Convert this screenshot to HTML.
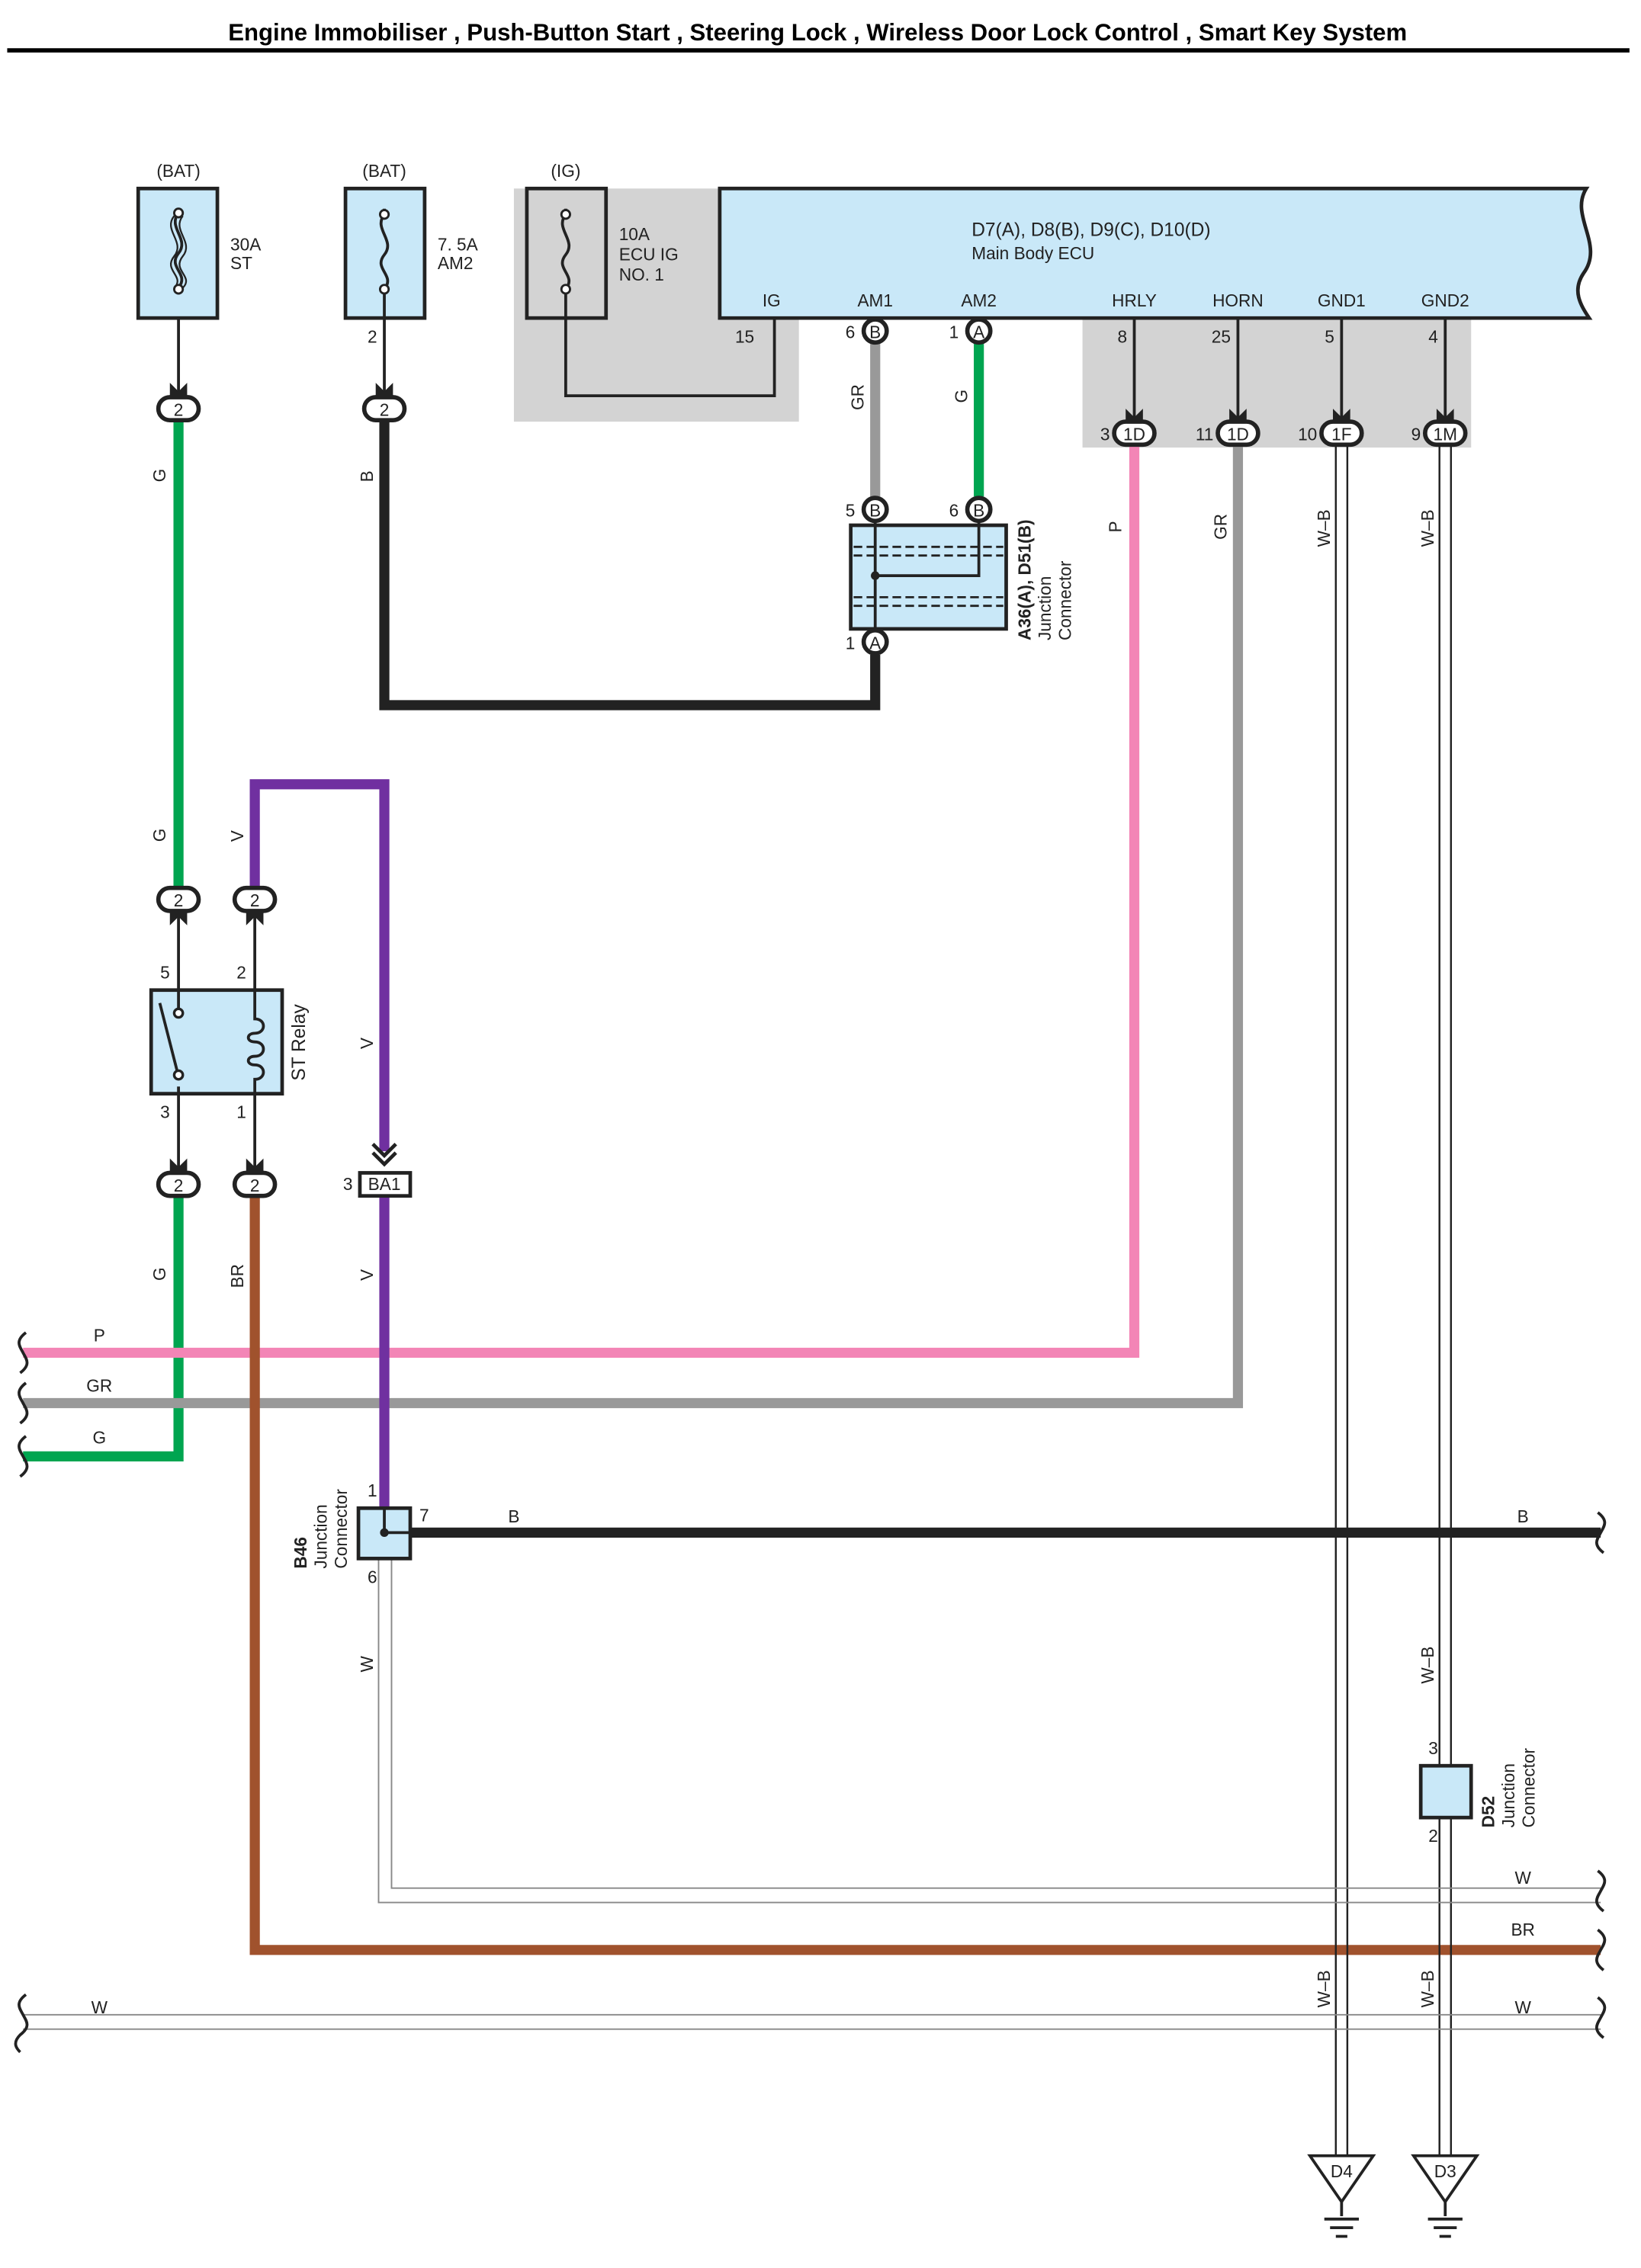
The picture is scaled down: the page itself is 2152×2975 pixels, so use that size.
<!DOCTYPE html>
<html><head><meta charset="utf-8"><style>
html,body{margin:0;padding:0;background:#fff}
svg{display:block}
text{font-family:"Liberation Sans",sans-serif;font-size:12px;fill:#222}
</style></head><body>
<svg width="2152" height="2975" viewBox="0 0 1140 1576" xmlns="http://www.w3.org/2000/svg">
<defs>
<g id="arr"><path d="M-6,-9 L0,-3 L6,-9 L6,0 L0,6 L-6,0 Z" fill="#222"/></g>
</defs>
<text x="568" y="28" text-anchor="middle" style="font-size:16.5px;font-weight:bold;fill:#000">Engine Immobiliser , Push-Button Start , Steering Lock , Wireless Door Lock Control , Smart Key System</text>
<line x1="5" y1="35" x2="1132" y2="35" stroke="#000" stroke-width="3"/>

<!-- gray regions -->
<rect x="357" y="131" width="198" height="162" fill="#d3d3d3"/>
<rect x="752" y="221" width="270" height="90" fill="#d3d3d3"/>

<!-- fuses -->
<text x="124" y="123" text-anchor="middle">(BAT)</text>
<rect x="96" y="131" width="55" height="90" fill="#c9e8f8" stroke="#222" stroke-width="2.5"/>
<path d="M124,148 c-8,10 8,18 0,28 c-8,10 8,14 0,24" fill="none" stroke="#222" stroke-width="2"/>
<path d="M121,150 c-8,10 8,18 0,28 c-8,10 8,14 0,22" fill="none" stroke="#222" stroke-width="1.2"/>
<path d="M127,150 c-8,10 8,18 0,28 c-8,10 8,14 0,22" fill="none" stroke="#222" stroke-width="1.2"/>
<text x="160" y="174">30A</text><text x="160" y="187">ST</text>
<text x="267" y="123" text-anchor="middle">(BAT)</text>
<rect x="240" y="131" width="55" height="90" fill="#c9e8f8" stroke="#222" stroke-width="2.5"/>
<path d="M267,145 v4 c-8,10 8,18 0,28 c-8,10 8,14 0,24 v20" fill="none" stroke="#222" stroke-width="2"/>
<text x="304" y="174">7. 5A</text><text x="304" y="187">AM2</text>
<text x="393" y="123" text-anchor="middle">(IG)</text>
<rect x="366" y="131" width="55" height="90" fill="#d3d3d3" stroke="#222" stroke-width="2.5"/>
<path d="M393,145 v4 c-8,10 8,18 0,28 c-8,10 8,14 0,24 v20" fill="none" stroke="#222" stroke-width="2"/>
<text x="430" y="167">10A</text><text x="430" y="181">ECU IG</text><text x="430" y="195">NO. 1</text>
<path d="M393,221 V275 H538 V221" fill="none" stroke="#222" stroke-width="2"/>
<text x="524" y="238" text-anchor="end">15</text>
<!-- fuse circle points -->
<g fill="#fff" stroke="#222" stroke-width="1.5"><circle cx="124" cy="148" r="3"/><circle cx="124" cy="201" r="3"/><circle cx="267" cy="149" r="3"/><circle cx="267" cy="201" r="3"/><circle cx="393" cy="149" r="3"/><circle cx="393" cy="201" r="3"/></g>

<!-- ECU -->
<path d="M500,131 H1102 C1090,150 1115,170 1100,190 C1092,202 1098,212 1104,221 H500 Z" fill="#c9e8f8" stroke="#222" stroke-width="2.5"/>
<text x="675" y="164" style="font-size:13px">D7(A), D8(B), D9(C), D10(D)</text>
<text x="675" y="180">Main Body ECU</text>
<g text-anchor="middle"><text x="536" y="213">IG</text><text x="608" y="213">AM1</text><text x="680" y="213">AM2</text><text x="788" y="213">HRLY</text><text x="860" y="213">HORN</text><text x="932" y="213">GND1</text><text x="1004" y="213">GND2</text></g>

<!-- colored wires -->
<g fill="none" stroke-width="7">
<path d="M124,293 V616" stroke="#00a550"/>
<path d="M124,832 V1012 H16" stroke="#00a550"/>
<path d="M267,293 V490 H608 V455" stroke="#222"/>
<path d="M608,239 V345" stroke="#999" />
<path d="M680,239 V345" stroke="#00a550"/>
<path d="M788,310 V940 H16" stroke="#f385b6"/>
<path d="M860,310 V975 H16" stroke="#999"/>
<path d="M177,616 V545 H267 V800" stroke="#7030a0"/>
<path d="M267,831 V1048" stroke="#7030a0"/>
<path d="M177,832 V1355 H1112" stroke="#a0522d"/>
<path d="M285,1065 H1112" stroke="#222"/>
</g>
<!-- W-B double wires -->
<g stroke="#222" stroke-width="1.3" fill="none">
<path d="M928,310 V1498 M936,310 V1498"/>
<path d="M1000,310 V1227 M1008,310 V1227 M1000,1263 V1498 M1008,1263 V1498"/>
</g>
<!-- W wires (hollow) -->
<g stroke="#888" stroke-width="1" fill="none">
<path d="M263,1083 V1322 H1112"/><path d="M272,1083 V1312 H1112"/>
<path d="M16,1400 H1112 M16,1410 H1112"/>
</g>

<!-- squiggle ends -->
<g fill="none" stroke="#222" stroke-width="2">
<path d="M18,926 c-8,6 -4,10 -2,14 c2,4 6,8 -2,14"/>
<path d="M18,961 c-8,6 -4,10 -2,14 c2,4 6,8 -2,14"/>
<path d="M18,998 c-8,6 -4,10 -2,14 c2,4 6,8 -2,14"/>
<path d="M18,1386 c-8,6 -4,10 -2,14 c2,4 6,8 -2,14 c-6,6 -2,10 0,12"/>
<path d="M1110,1051 c8,6 4,10 2,14 c-2,4 -6,8 2,14"/>
<path d="M1110,1300 c8,6 4,10 2,14 c-2,4 -6,8 2,14"/>
<path d="M1110,1341 c8,6 4,10 2,14 c-2,4 -6,8 2,14"/>
<path d="M1110,1388 c8,6 4,10 2,14 c-2,4 -6,8 2,14"/>
</g>

<!-- thin lines to connectors -->
<g stroke="#222" stroke-width="2" fill="none">
<path d="M124,221 V275 M267,221 V275"/>
<path d="M788,221 V293 M860,221 V293 M932,221 V293 M1004,221 V293"/>
<path d="M124,634 V688 M177,634 V688 M124,760 V814 M177,760 V814"/>
</g>
<!-- arrows -->
<use href="#arr" x="124" y="275"/><use href="#arr" x="267" y="275"/>
<use href="#arr" x="788" y="293"/><use href="#arr" x="860" y="293"/><use href="#arr" x="932" y="293"/><use href="#arr" x="1004" y="293"/>
<use href="#arr" x="124" y="814"/><use href="#arr" x="177" y="814"/>
<g transform="translate(124,634) scale(1,-1)"><use href="#arr"/></g>
<g transform="translate(177,634) scale(1,-1)"><use href="#arr"/></g>
<path d="M259,795 L267,803 L275,795 M259,801 L267,809 L275,801" stroke="#222" stroke-width="2.5" fill="none"/>

<!-- oval connectors -->
<g fill="#fff" stroke="#222" stroke-width="3">
<rect x="110" y="276" width="28" height="16" rx="8"/><rect x="253" y="276" width="28" height="16" rx="8"/>
<rect x="110" y="617" width="28" height="16" rx="8"/><rect x="163" y="617" width="28" height="16" rx="8"/>
<rect x="110" y="815" width="28" height="16" rx="8"/><rect x="163" y="815" width="28" height="16" rx="8"/>
<rect x="774" y="293" width="28" height="16" rx="8"/><rect x="846" y="293" width="28" height="16" rx="8"/>
<rect x="918" y="293" width="28" height="16" rx="8"/><rect x="990" y="293" width="28" height="16" rx="8"/>
<circle cx="608" cy="230" r="8"/><circle cx="680" cy="230" r="8"/><circle cx="608" cy="354" r="8"/><circle cx="680" cy="354" r="8"/><circle cx="608" cy="446" r="8"/>
</g>
<g text-anchor="middle" style="font-size:12px">
<text x="124" y="289">2</text><text x="267" y="289">2</text>
<text x="124" y="630">2</text><text x="177" y="630">2</text><text x="124" y="828">2</text><text x="177" y="828">2</text>
<text x="788" y="306">1D</text><text x="860" y="306">1D</text><text x="932" y="306">1F</text><text x="1004" y="306">1M</text>
<text x="608" y="235">B</text><text x="680" y="235">A</text><text x="608" y="359">B</text><text x="680" y="359">B</text><text x="608" y="451">A</text>
</g>
<g style="font-size:12px" text-anchor="end">
<text x="594" y="235">6</text><text x="666" y="235">1</text><text x="594" y="359">5</text><text x="666" y="359">6</text><text x="594" y="451">1</text>
<text x="771" y="306">3</text><text x="843" y="306">11</text><text x="915" y="306">10</text><text x="987" y="306">9</text>
<text x="783" y="238">8</text><text x="855" y="238">25</text><text x="927" y="238">5</text><text x="999" y="238">4</text>
<text x="262" y="238">2</text>
<text x="118" y="680">5</text><text x="171" y="680">2</text><text x="118" y="777">3</text><text x="171" y="777">1</text>
<text x="245" y="827">3</text><text x="262" y="1040">1</text><text x="262" y="1100">6</text><text x="298" y="1057">7</text>
<text x="999" y="1219">3</text><text x="999" y="1280">2</text>
</g>

<!-- junction connector A36 -->
<rect x="591" y="365" width="108" height="72" fill="#c9e8f8" stroke="#222" stroke-width="2.5"/>
<g stroke="#222" stroke-width="1.5" fill="none">
<path d="M593,380 H697 M593,386 H697 M593,415 H697 M593,421 H697" stroke-dasharray="6,3"/>
<path d="M608,362 V437 M680,362 V400 H608" stroke-width="2"/>
</g>
<circle cx="608" cy="400" r="3" fill="#222"/>
<g transform="translate(716,445) rotate(-90)"><text style="font-weight:bold">A36(A), D51(B)</text><text y="14">Junction</text><text y="28">Connector</text></g>

<!-- relay -->
<rect x="105" y="688" width="91" height="72" fill="#c9e8f8" stroke="#222" stroke-width="2.5"/>
<path d="M124,688 V701 M124,755 V760" stroke="#222" stroke-width="2"/>
<circle cx="124" cy="704" r="3" fill="#fff" stroke="#222" stroke-width="1.8"/><circle cx="124" cy="747" r="3" fill="#fff" stroke="#222" stroke-width="1.8"/>
<path d="M111,697 L123,744" stroke="#222" stroke-width="2"/>
<path d="M177,688 V708 c8,0 8,10 0,10 c-6,0 -6,6 0,6 c8,0 8,10 0,10 c-6,0 -6,6 0,6 c8,0 8,10 0,10 V760" fill="none" stroke="#222" stroke-width="2"/>
<text transform="translate(212,751) rotate(-90)" style="font-size:13px">ST Relay</text>

<!-- BA1 -->
<rect x="250" y="815" width="35" height="16" fill="#fff" stroke="#222" stroke-width="2.5"/>
<text x="267" y="827" text-anchor="middle">BA1</text>

<!-- B46 -->
<rect x="249" y="1048" width="36" height="35" fill="#c9e8f8" stroke="#222" stroke-width="2.5"/>
<path d="M267,1048 V1065 H285" stroke="#222" stroke-width="2" fill="none"/>
<circle cx="267" cy="1065" r="3" fill="#222"/>
<g transform="translate(213,1090) rotate(-90)"><text style="font-weight:bold">B46</text><text y="14">Junction</text><text y="28">Connector</text></g>

<!-- D52 -->
<rect x="987" y="1227" width="35" height="36" fill="#c9e8f8" stroke="#222" stroke-width="2.5"/>
<g transform="translate(1038,1270) rotate(-90)"><text style="font-weight:bold">D52</text><text y="14">Junction</text><text y="28">Connector</text></g>

<!-- grounds -->
<g stroke="#222" stroke-width="2" fill="#fff">
<path d="M910,1498 H954 L932,1530 Z"/><path d="M982,1498 H1026 L1004,1530 Z"/>
<path d="M932,1530 V1540 M920,1542 H944 M924,1548 H940 M928,1554 H936 M1004,1530 V1540 M992,1542 H1016 M996,1548 H1012 M1000,1554 H1008" fill="none"/>
</g>
<text x="932" y="1513" text-anchor="middle">D4</text><text x="1004" y="1513" text-anchor="middle">D3</text>

<!-- rotated wire labels -->
<g>
<text transform="translate(115,335) rotate(-90)">G</text>
<text transform="translate(259,335) rotate(-90)">B</text>
<text transform="translate(600,285) rotate(-90)">GR</text>
<text transform="translate(672,280) rotate(-90)">G</text>
<text transform="translate(779,370) rotate(-90)">P</text>
<text transform="translate(852,375) rotate(-90)">GR</text>
<text transform="translate(924,380) rotate(-90)">W–B</text>
<text transform="translate(996,380) rotate(-90)">W–B</text>
<text transform="translate(115,585) rotate(-90)">G</text>
<text transform="translate(169,585) rotate(-90)">V</text>
<text transform="translate(259,729) rotate(-90)">V</text>
<text transform="translate(115,890) rotate(-90)">G</text>
<text transform="translate(169,895) rotate(-90)">BR</text>
<text transform="translate(259,890) rotate(-90)">V</text>
<text transform="translate(259,1162) rotate(-90)">W</text>
<text transform="translate(996,1170) rotate(-90)">W–B</text>
<text transform="translate(924,1395) rotate(-90)">W–B</text>
<text transform="translate(996,1395) rotate(-90)">W–B</text>
</g>
<g text-anchor="middle">
<text x="69" y="932">P</text><text x="69" y="967">GR</text><text x="69" y="1003">G</text>
<text x="357" y="1058">B</text><text x="1058" y="1058">B</text>
<text x="1058" y="1309">W</text><text x="1058" y="1345">BR</text>
<text x="69" y="1399">W</text><text x="1058" y="1399">W</text>
</g>
</svg>
</body></html>
